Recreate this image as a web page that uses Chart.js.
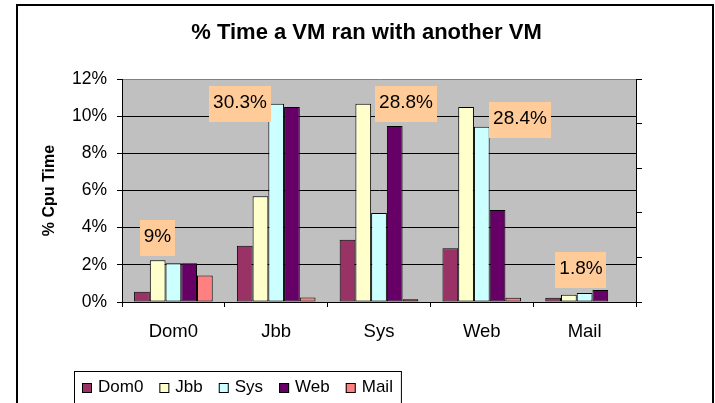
<!DOCTYPE html>
<html><head><meta charset="utf-8">
<script src="https://cdn.jsdelivr.net/npm/chart.js@4/dist/chart.umd.min.js"></script>
<style>
html,body{margin:0;padding:0;background:#fff;overflow:hidden}
#wrap{position:relative;width:715px;height:403px}
#frame{position:absolute;left:16px;top:4px;width:698px;height:430px;border:2px solid #000;box-sizing:border-box}
canvas{position:absolute;left:0;top:0}
</style></head><body>
<div id="wrap"><div id="frame"></div><canvas id="c" width="715" height="403"></canvas></div>
<script>
// ---- data ----
const categories = ['Dom0', 'Jbb', 'Sys', 'Web', 'Mail'];
const seriesNames = ['Dom0', 'Jbb', 'Sys', 'Web', 'Mail'];
const dom0Values = [0.55, 3.03, 3.35, 2.89, 0.23];
const jbbValues  = [2.24, 5.69, 10.67, 10.49, 0.39];
const sysValues  = [2.08, 10.67, 4.79, 9.43, 0.48];
const webValues  = [2.08, 10.49, 9.47, 4.95, 0.64];
const mailValues = [1.43, 0.24, 0.15, 0.23, 0];
const groupLabels = ['9%', '30.3%', '28.8%', '28.4%', '1.8%'];
const yTicks = [0, 2, 4, 6, 8, 10, 12];
const rightTicks = [0, 1, 2, 3, 4, 5];

// ---- styling ----
const FONT = '"Liberation Sans", Arial, sans-serif';
Chart.defaults.font.family = FONT;
Chart.defaults.color = '#000';
const seriesColors = ['#993366', '#FFFFCC', '#CCFFFF', '#660066', '#FF8080'];
const allValues = [dom0Values, jbbValues, sysValues, webValues, mailValues];

// placement of the peach callout boxes (x offset as fraction of category width, y anchor in axis units)
const calloutPlacement = [
  {dx: -0.155, y: 3.44},
  {dx: -0.352, y: 10.66},
  {dx: 0.263, y: 10.66},
  {dx: 0.372, y: 9.80},
  {dx: -0.035, y: 1.72}
];

const plotBg = {
  id: 'plotBg',
  beforeDraw(chart) {
    const {ctx, chartArea: a} = chart;
    ctx.save();
    ctx.fillStyle = '#C0C0C0';
    ctx.fillRect(a.left, a.top, a.right - a.left, a.bottom - a.top);
    ctx.restore();
  }
};

const callouts = {
  id: 'callouts',
  afterDatasetsDraw(chart) {
    const {ctx} = chart;
    const xs = chart.scales.x, ys = chart.scales.y;
    const cw = (xs.right - xs.left) / categories.length;
    ctx.save();
    ctx.font = '19px ' + FONT;
    ctx.textAlign = 'center';
    ctx.textBaseline = 'middle';
    groupLabels.forEach((t, i) => {
      const p = calloutPlacement[i];
      const cx = xs.getPixelForValue(i) + p.dx * cw;
      const cy = ys.getPixelForValue(p.y);
      const w = ctx.measureText(t).width + 8;
      const h = 36;
      ctx.fillStyle = '#FFCC99';
      ctx.fillRect(Math.round(cx - w / 2), Math.round(cy - h / 2), Math.round(w), h);
      ctx.fillStyle = '#000';
      ctx.fillText(t, cx, cy - 1);
    });
    ctx.restore();
  }
};

const boxLegend = {
  id: 'boxLegend',
  afterDraw(chart) {
    const c = chart.ctx;
    c.save();
    c.font = '17px ' + FONT;
    c.textBaseline = 'middle';
    c.textAlign = 'left';
    const yMid = 387;
    let x = 82;
    chart.data.datasets.forEach(ds => {
      c.fillStyle = ds.backgroundColor;
      c.fillRect(x, yMid - 4, 10, 10);
      c.strokeStyle = '#000';
      c.lineWidth = 1;
      c.strokeRect(x + 0.5, yMid - 3.5, 9, 9);
      c.fillStyle = '#000';
      c.fillText(ds.label, x + 16, yMid);
      x += 16 + c.measureText(ds.label).width + 16;
    });
    const right = x - 16 + 8;
    c.strokeStyle = '#000';
    c.lineWidth = 1;
    c.strokeRect(74.5, 371.5, right - 74, 60);
    c.restore();
  }
};

new Chart(document.getElementById('c'), {
  type: 'bar',
  data: {
    labels: categories,
    datasets: seriesNames.map((name, k) => ({
      label: name,
      data: allValues[k],
      backgroundColor: seriesColors[k],
      borderColor: '#000',
      borderWidth: 1,
      borderSkipped: false,
      categoryPercentage: 0.765,
      barPercentage: 1.0,
      yAxisID: 'y'
    }))
  },
  options: {
    responsive: false,
    animation: false,
    devicePixelRatio: 1,
    layout: {padding: {left: 18, right: 0, top: 0, bottom: 0}},
    plugins: {
      legend: {display: false},
      tooltip: {enabled: false},
      title: {
        display: true,
        text: '% Time a VM ran with another VM',
        font: {size: 22, weight: 'bold', family: FONT},
        color: '#000',
        padding: {top: 20, bottom: 32.6}
      }
    },
    scales: {
      x: {
        type: 'category',
        offset: true,
        grid: {offset: true, drawOnChartArea: false, drawTicks: true, tickLength: 5, color: '#000', tickColor: '#000'},
        border: {color: '#000', width: 1},
        ticks: {font: {size: 18.5}, color: '#000', padding: 14, maxRotation: 0, autoSkip: false},
        afterFit(s) { s.height = 101; }
      },
      y: {
        position: 'left',
        min: 0, max: 12,
        afterBuildTicks(s) { s.ticks = yTicks.map(v => ({value: v})); },
        ticks: {callback: v => v + '%', font: {size: 17.5}, color: '#000', padding: 10},
        grid: {
          color: c => (c.tick && c.tick.value === 12) ? '#808080' : '#000',
          tickColor: '#000', tickLength: 5, drawTicks: true
        },
        border: {color: '#000', width: 1},
        title: {display: true, text: '% Cpu Time', font: {size: 16, weight: 'bold'}, color: '#000', padding: {top: 21.5, bottom: 0}},
        afterFit(s) { s.width = 104; }
      },
      y2: {
        position: 'right',
        min: 0, max: 5,
        afterBuildTicks(s) { s.ticks = rightTicks.map(v => ({value: v})); },
        ticks: {display: false},
        grid: {drawOnChartArea: false, drawTicks: true, tickLength: 6, color: '#000', tickColor: '#000'},
        border: {color: '#000', width: 1},
        afterFit(s) { s.width = 79; }
      }
    }
  },
  plugins: [plotBg, callouts, boxLegend]
});
</script>
</body></html>
